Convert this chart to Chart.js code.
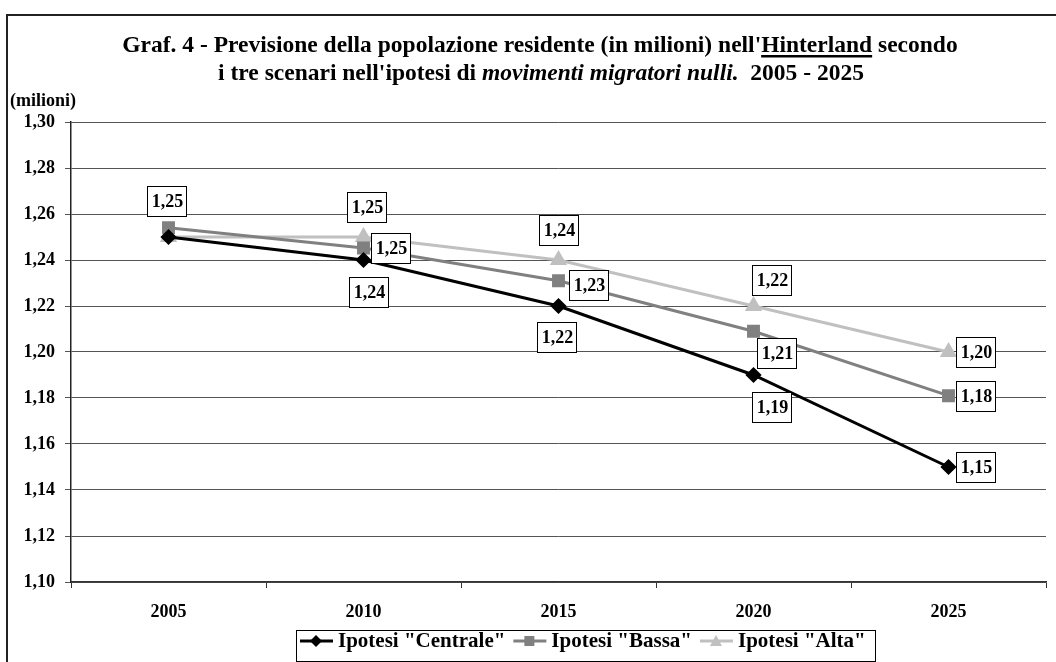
<!DOCTYPE html>
<html>
<head>
<meta charset="utf-8">
<script src="https://cdn.jsdelivr.net/npm/chart.js@4/dist/chart.umd.min.js"></script>
<style>
  html, body { margin: 0; padding: 0; background: #fff; overflow: hidden; }
</style>
</head>
<body>
<canvas id="grafico" width="1056" height="662"></canvas>
<script>
// dati (milioni di residenti)
const anni = ['2005', '2010', '2015', '2020', '2025'];
const centrale = [1.250, 1.240, 1.220, 1.190, 1.150];
const bassa = [1.254, 1.2452, 1.231, 1.209, 1.181];
const alta = [1.250, 1.250, 1.240, 1.220, 1.200];
const nomiSerie = ['Ipotesi "Centrale"', 'Ipotesi "Bassa"', 'Ipotesi "Alta"'];

// spostamento delle etichette rispetto al punto (null = nessuna etichetta)
const posCentrale = [null, [5, 32], [-2, 31], [18, 32], [27, 0]];
const posBassa = [null, [27, 0], [30, 4], [23, 22], [27, 0]];
const posAlta = [[-2, -36], [3, -30], [0, -30], [18, -26], [27, 0]];

const FONT = "'Liberation Serif', 'Times New Roman', serif";

const etichettePlugin = {
    id: 'etichette',
    afterDatasetsDraw(chart) {
        const ctx = chart.ctx;
        ctx.save();
        ctx.font = 'bold 18px ' + FONT;
        ctx.textAlign = 'center';
        ctx.textBaseline = 'middle';
        chart.data.datasets.forEach((ds, i) => {
            const meta = chart.getDatasetMeta(i);
            meta.data.forEach((pt, j) => {
                const off = ds.posEtichette[j];
                if (!off) return;
                const testo = ds.data[j].toFixed(2).replace('.', ',');
                const w = Math.round(ctx.measureText(testo).width + 7);
                const h = 30;
                const cx = Math.round(pt.x + off[0]);
                const cy = Math.round(pt.y + off[1]);
                const x0 = cx - Math.round(w / 2);
                const y0 = cy - h / 2;
                ctx.fillStyle = '#fff';
                ctx.fillRect(x0, y0, w, h);
                ctx.strokeStyle = '#000';
                ctx.lineWidth = 1;
                ctx.strokeRect(x0 + 0.5, y0 + 0.5, w, h);
                ctx.fillStyle = '#000';
                ctx.fillText(testo, cx + 0.5, cy + 1);
            });
        });
        ctx.restore();
    }
};

function disegnaRiga(ctx, pezzi, cx, y) {
    let tot = 0;
    pezzi.forEach(p => { ctx.font = p.font; p.w = ctx.measureText(p.t).width; tot += p.w; });
    let x = cx - tot / 2;
    pezzi.forEach(p => {
        ctx.font = p.font;
        ctx.fillText(p.t, x, y);
        if (p.sotto) {
            ctx.fillRect(x, y + 3, p.w, 2.5);
        }
        x += p.w;
    });
}

function disegnaMarcatore(ctx, tipo, x, y, colore) {
    ctx.fillStyle = colore;
    ctx.beginPath();
    if (tipo === 'rectRot') {
        ctx.moveTo(x, y - 6); ctx.lineTo(x + 6, y); ctx.lineTo(x, y + 6); ctx.lineTo(x - 6, y);
    } else if (tipo === 'rect') {
        ctx.rect(x - 5, y - 5, 10, 10);
    } else {
        ctx.moveTo(x, y - 6); ctx.lineTo(x + 6, y + 5); ctx.lineTo(x - 6, y + 5);
    }
    ctx.closePath();
    ctx.fill();
}

const cornicePlugin = {
    id: 'cornice',
    afterDraw(chart) {
        const ctx = chart.ctx;
        ctx.save();
        // cornice esterna
        ctx.strokeStyle = '#222';
        ctx.lineWidth = 2;
        ctx.beginPath();
        ctx.moveTo(7, 670);
        ctx.lineTo(7, 15);
        ctx.lineTo(1060, 15);
        ctx.stroke();

        // titolo
        ctx.fillStyle = '#000';
        ctx.textAlign = 'left';
        ctx.textBaseline = 'alphabetic';
        const b = 'bold 23.5px ' + FONT;
        const bi = 'italic bold 23.5px ' + FONT;
        disegnaRiga(ctx, [
            { t: "Graf. 4 - Previsione della popolazione residente (in milioni) nell'", font: b },
            { t: 'Hinterland', font: b, sotto: true },
            { t: ' secondo', font: b }
        ], 540, 52);
        disegnaRiga(ctx, [
            { t: "i tre scenari nell'ipotesi di ", font: b },
            { t: 'movimenti migratori nulli.', font: bi },
            { t: '  2005 - 2025', font: b }
        ], 541, 80);

        // unità asse y
        ctx.font = 'bold 18px ' + FONT;
        ctx.textBaseline = 'middle';
        ctx.fillText('(milioni)', 10, 101);

        // legenda
        ctx.font = 'bold 21px ' + FONT;
        let x = 300;
        const y = 641;
        ctx.strokeStyle = '#000';
        ctx.lineWidth = 1;
        ctx.strokeRect(296.5, 630.5, 579, 31);
        chart.data.datasets.forEach(ds => {
            const w = ctx.measureText(ds.label).width;
            ctx.strokeStyle = ds.borderColor;
            ctx.lineWidth = 3;
            ctx.beginPath();
            ctx.moveTo(x, y);
            ctx.lineTo(x + 33, y);
            ctx.stroke();
            disegnaMarcatore(ctx, ds.pointStyle, x + 16, y, ds.pointBackgroundColor);
            ctx.fillStyle = '#000';
            ctx.fillText(ds.label, x + 38, y + 1);
            x += 38 + w + 8;
        });
        ctx.restore();
    }
};

const ctx = document.getElementById('grafico').getContext('2d');
new Chart(ctx, {
    type: 'line',
    data: {
        labels: anni,
        datasets: [
            {
                label: nomiSerie[0],
                data: centrale,
                borderColor: '#000000',
                pointBackgroundColor: '#000000',
                pointBorderColor: '#000000',
                pointStyle: 'rectRot',
                pointRadius: 6,
                borderWidth: 3,
                posEtichette: posCentrale
            },
            {
                label: nomiSerie[1],
                data: bassa,
                borderColor: '#808080',
                pointBackgroundColor: '#808080',
                pointBorderColor: '#808080',
                pointStyle: 'rect',
                pointRadius: 7,
                borderWidth: 3,
                posEtichette: posBassa
            },
            {
                label: nomiSerie[2],
                data: alta,
                borderColor: '#c0c0c0',
                pointBackgroundColor: '#c0c0c0',
                pointBorderColor: '#c0c0c0',
                pointStyle: 'triangle',
                pointRadius: 7,
                borderWidth: 3,
                posEtichette: posAlta
            }
        ]
    },
    options: {
        responsive: false,
        animation: false,
        layout: { padding: { top: 122, left: 0, right: 0, bottom: 40 } },
        plugins: {
            legend: { display: false },
            title: { display: false },
            tooltip: { enabled: false }
        },
        elements: {
            line: { tension: 0 },
            point: { borderWidth: 1 }
        },
        scales: {
            x: {
                offset: true,
                grid: { display: true, drawOnChartArea: false, offset: true, color: '#333', tickLength: 6 },
                border: { color: '#333', width: 1.5 },
                ticks: { color: '#000', padding: 14, font: { family: FONT, size: 18, weight: 'bold' } },
                afterFit(scale) { scale.height = 40; }
            },
            y: {
                min: 1.10,
                max: 1.30,
                grid: { color: '#555', lineWidth: 1, tickLength: 6 },
                border: { color: '#222', width: 1.5 },
                ticks: {
                    stepSize: 0.02,
                    color: '#000',
                    padding: 10,
                    font: { family: FONT, size: 18, weight: 'bold' },
                    callback: v => v.toFixed(2).replace('.', ',')
                },
                afterFit(scale) { scale.width = 71; }
            }
        }
    },
    plugins: [etichettePlugin, cornicePlugin]
});
</script>
</body>
</html>
